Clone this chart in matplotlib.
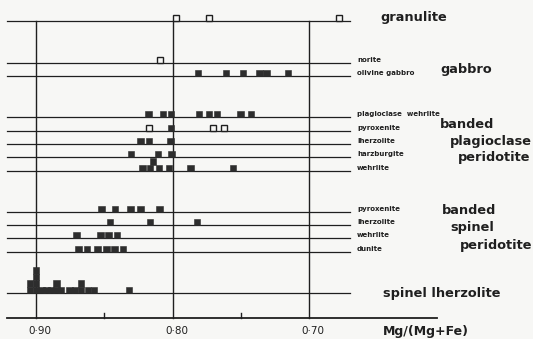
import matplotlib.pyplot as plt
from matplotlib.patches import Rectangle

# Mg/(Mg+Fe) of the analysed samples, one list per rock type
# (filled = olivine-bearing, open = olivine-free)
granulite_open = [0.7974, 0.7733, 0.678]
norite_open = [0.8092]
olivine_gabbro = [0.7813, 0.7608, 0.7484, 0.7363, 0.7311, 0.7154]

bp_plag_wehrlite = [0.8179, 0.8070, 0.8011, 0.7806, 0.7733, 0.7674, 0.7505, 0.7425]
bp_pyroxenite = [0.8011]
bp_pyroxenite_open = [0.8170, 0.7701, 0.7623]
bp_lherzolite = [0.8233, 0.8172, 0.8016]
bp_harzburgite = [0.8304, 0.8106, 0.8006]
bp_wehrlite = [0.8223, 0.8165, 0.8143, 0.8099, 0.8026, 0.7868, 0.7557]

bs_pyroxenite = [0.8519, 0.8421, 0.8306, 0.8233, 0.8097]
bs_lherzolite = [0.8458, 0.8165, 0.7821]
bs_wehrlite = [0.8705, 0.8529, 0.8467, 0.8407]
bs_dunite = [0.8687, 0.8626, 0.8551, 0.8485, 0.8423, 0.8363]

spinel_lherzolite = [0.9044, 0.9044, 0.9000, 0.9000, 0.9000, 0.9000, 0.8960,
                     0.8923, 0.8890, 0.8853, 0.8853, 0.8817, 0.8755, 0.8714,
                     0.8670, 0.8670, 0.8619, 0.8575, 0.8319]

rows = [
    ("", [], granulite_open),
    ("norite", [], norite_open),
    ("olivine gabbro", olivine_gabbro, []),
    ("plagioclase  wehrlite", bp_plag_wehrlite, []),
    ("pyroxenite", bp_pyroxenite, bp_pyroxenite_open),
    ("lherzolite", bp_lherzolite, []),
    ("harzburgite", bp_harzburgite, []),
    ("wehrlite", bp_wehrlite, []),
    ("pyroxenite", bs_pyroxenite, []),
    ("lherzolite", bs_lherzolite, []),
    ("wehrlite", bs_wehrlite, []),
    ("dunite", bs_dunite, []),
    ("", spinel_lherzolite, []),
]
row_y = [21, 63, 76, 117, 131, 144, 157, 171, 212, 225, 238, 252, 293]

groups = [
    ("granulite", 380, 18),
    ("gabbro", 440, 69),
    ("banded", 440, 125),
    ("plagioclase", 450, 142),
    ("peridotite", 458, 158),
    ("banded", 442, 210),
    ("spinel", 450, 227),
    ("peridotite", 460, 245),
    ("spinel lherzolite", 383, 293),
]

ticks = [0.90, 0.80, 0.70]
tick_labels = ["0·90", "0·80", "0·70"]
minor_ticks = [0.85, 0.75]

bg = "#f7f7f5"
ink = "#1f1f1f"
W = 0.0050   # square width in Mg# units
H = 6.5      # square height in pixels


def stack(values, tol=0.003):
    placed, out = [], []
    for v in sorted(values, reverse=True):
        level = sum(abs(v - p) < tol for p in placed)
        placed.append(v)
        out.append((v, level))
    return out


fig = plt.figure(figsize=(5.33, 3.39), dpi=100, facecolor=bg)
ax = fig.add_axes([0, 0, 1, 1])
ax.set_facecolor(bg)
ax.set_xlim(0.9264, 0.5359)
ax.set_ylim(339, 0)
ax.axis("off")

# overlay in pixel units for the lettering
tx = fig.add_axes([0, 0, 1, 1], facecolor="none")
tx.set_xlim(0, 533)
tx.set_ylim(339, 0)
tx.axis("off")

for (label, filled, hollow), y in zip(rows, row_y):
    ax.plot([0.9212, 0.670], [y, y], color=ink, lw=0.9, zorder=2)
    for v, lev in stack(filled):
        ax.add_patch(Rectangle((v - W / 2, y - (lev + 1) * H), W, H,
                               facecolor="#2d2d2d", edgecolor="#2d2d2d",
                               lw=0.4, zorder=3))
    for v, lev in stack(hollow):
        ax.add_patch(Rectangle((v - W / 2 + 0.0004, y - (lev + 1) * H + 0.5),
                               W - 0.0008, H - 0.5, facecolor=bg,
                               edgecolor=ink, lw=1.0, zorder=3))
    if label:
        tx.text(357, y - 3, label, fontsize=5, fontweight="bold",
                color=ink, ha="left", va="center")

for v in ticks:
    ax.plot([v, v], [21, 318], color=ink, lw=1.0, zorder=1)
for v in minor_ticks:
    ax.plot([v, v], [313, 318], color=ink, lw=1.0)
ax.plot([0.9212, 0.6062], [318, 318], color=ink, lw=1.3)

for v, lab in zip(ticks, tick_labels):
    ax.annotate(lab, (v, 331), xytext=(3, 0), textcoords="offset points",
                fontsize=7.5, color=ink, ha="center", va="center")

for text, x, y in groups:
    tx.text(x, y, text, fontsize=9.3, fontweight="bold", color=ink,
            ha="left", va="center")

tx.text(383, 332, "Mg/(Mg+Fe)", fontsize=9, fontweight="bold", color=ink,
        ha="left", va="center")

fig.savefig("out.png", dpi=100, facecolor=bg)
